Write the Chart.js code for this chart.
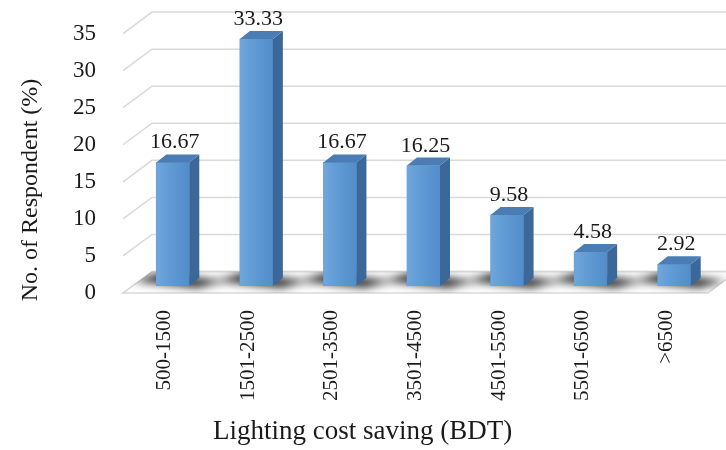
<!DOCTYPE html>
<html>
<head>
<meta charset="utf-8">
<script src="https://cdn.jsdelivr.net/npm/chart.js@4"></script>
<style>
  html, body { margin: 0; padding: 0; background: #ffffff; }
  #wrap { width: 726px; height: 450px; }
</style>
</head>
<body>
<div id="wrap"><canvas id="c" width="726" height="450"></canvas></div>
<script>
// Share of respondents by lighting cost saving band
const categories = ['500-1500', '1501-2500', '2501-3500', '3501-4500', '4501-5500', '5501-6500', '>6500'];
const respondentShare = [16.67, 33.33, 16.67, 16.25, 9.58, 4.58, 2.92];
const yTicks = [0, 5, 10, 15, 20, 25, 30, 35];
const yTitle = 'No. of Respondent (%)';
const xTitle = 'Lighting cost saving (BDT)';

const FONT = "'Liberation Serif', 'Times New Roman', serif";

// perspective offsets for the pseudo-3D look
const WALL = { dx: 29, dy: -21.5 };   // front plane -> back wall
const BAR = { dx: 8, dy: -7 };        // front plane -> bar front face
const DEPTH = { dx: 10, dy: -8 };     // bar front face -> bar back face
const GRID_COLOR = '#d9d9d9';

function floorPath(ctx, left, right, y) {
  ctx.beginPath();
  ctx.moveTo(left, y);
  ctx.lineTo(right, y);
  ctx.lineTo(right + WALL.dx, y + WALL.dy);
  ctx.lineTo(left + WALL.dx, y + WALL.dy);
  ctx.closePath();
}

const faux3d = {
  id: 'faux3d',
  beforeDatasetsDraw(chart) {
    const { ctx, chartArea, scales } = chart;
    const ys = scales.y;
    const left = chartArea.left, right = chartArea.right;
    const y0 = ys.getPixelForValue(0);

    ctx.save();
    // floor
    floorPath(ctx, left, right, y0);
    ctx.fillStyle = '#ffffff';
    ctx.fill();
    ctx.strokeStyle = GRID_COLOR;
    ctx.lineWidth = 1.5;
    ctx.stroke();

    // back wall gridlines with their side-wall diagonals
    yTicks.forEach(v => {
      const yf = ys.getPixelForValue(v);
      const yb = yf + WALL.dy;
      ctx.beginPath();
      ctx.moveTo(left, yf);
      ctx.lineTo(left + WALL.dx, yb);
      ctx.lineTo(chart.width, yb);
      ctx.stroke();
    });

    // soft shadows on the floor around each bar base
    const meta = chart.getDatasetMeta(0);
    ctx.save();
    floorPath(ctx, left, right, y0);
    ctx.clip();
    ctx.filter = 'blur(4px)';
    ctx.fillStyle = 'rgba(10,10,10,0.85)';
    meta.data.forEach(bar => {
      const p = bar.getProps(['x', 'width', 'base'], true);
      const x0 = p.x - p.width / 2 + BAR.dx;
      const x1 = p.x + p.width / 2 + BAR.dx;
      const yb = p.base + BAR.dy;
      ctx.beginPath();
      ctx.moveTo(x0 - 24, yb - 5);
      ctx.lineTo(x1 + 8, yb + 2);
      ctx.lineTo(x1 + DEPTH.dx + 26, yb + DEPTH.dy + 3);
      ctx.lineTo(x0 + DEPTH.dx - 8, yb + DEPTH.dy - 5);
      ctx.closePath();
      ctx.fill();
    });
    ctx.restore();
    ctx.restore();

    // shift the bars onto their plane inside the box
    ctx.save();
    ctx.translate(BAR.dx, BAR.dy);
  },
  afterDatasetsDraw(chart) {
    const { ctx } = chart;
    const meta = chart.getDatasetMeta(0);
    meta.data.forEach((bar, i) => {
      const p = bar.getProps(['x', 'y', 'width', 'base'], true);
      const x0 = p.x - p.width / 2;
      const x1 = p.x + p.width / 2;
      const top = p.y, base = p.base;

      // front face shading
      const g = ctx.createLinearGradient(x0, 0, x1, 0);
      g.addColorStop(0, 'rgba(255,255,255,0.12)');
      g.addColorStop(1, 'rgba(0,30,80,0.10)');
      ctx.fillStyle = g;
      ctx.fillRect(x0, top, x1 - x0, base - top);

      // right side face
      ctx.beginPath();
      ctx.moveTo(x1, top);
      ctx.lineTo(x1 + DEPTH.dx, top + DEPTH.dy);
      ctx.lineTo(x1 + DEPTH.dx, base + DEPTH.dy);
      ctx.lineTo(x1, base);
      ctx.closePath();
      ctx.fillStyle = '#3b6799';
      ctx.fill();

      // top face
      ctx.beginPath();
      ctx.moveTo(x0, top);
      ctx.lineTo(x1, top);
      ctx.lineTo(x1 + DEPTH.dx, top + DEPTH.dy);
      ctx.lineTo(x0 + DEPTH.dx, top + DEPTH.dy);
      ctx.closePath();
      ctx.fillStyle = '#4b7cb3';
      ctx.fill();

      // value label
      ctx.fillStyle = '#1a1a1a';
      ctx.font = '22px ' + FONT;
      ctx.textAlign = 'center';
      ctx.textBaseline = 'alphabetic';
      ctx.fillText(respondentShare[i].toFixed(2), p.x + 2, top + DEPTH.dy - 6);
    });
    ctx.restore();
  },
  afterDraw(chart) {
    const { ctx } = chart;
    ctx.save();
    ctx.fillStyle = '#1a1a1a';
    ctx.textBaseline = 'alphabetic';
    ctx.font = '27px ' + FONT;
    ctx.textAlign = 'left';
    ctx.fillText(xTitle, 213, 439);
    ctx.font = '24px ' + FONT;
    ctx.textAlign = 'center';
    ctx.translate(37, 190);
    ctx.rotate(-Math.PI / 2);
    ctx.fillText(yTitle, 0, 0);
    ctx.restore();
  }
};

new Chart(document.getElementById('c'), {
  type: 'bar',
  data: {
    labels: categories,
    datasets: [{
      data: respondentShare,
      backgroundColor: '#5b9ad8',
      borderWidth: 0,
      barThickness: 33
    }]
  },
  options: {
    responsive: false,
    animation: false,
    devicePixelRatio: 1,
    layout: { padding: { top: 33.6, right: 18, left: 0, bottom: 0 } },
    plugins: { legend: { display: false }, tooltip: { enabled: false } },
    scales: {
      x: {
        grid: { display: false },
        border: { display: false },
        ticks: {
          autoSkip: false,
          minRotation: 90,
          maxRotation: 90,
          padding: 9,
          color: '#1a1a1a',
          font: { family: FONT, size: 21 }
        },
        afterFit(scale) { scale.height = 157; }
      },
      y: {
        min: 0,
        max: 35,
        grid: { display: false },
        border: { display: false },
        ticks: {
          stepSize: 5,
          padding: 19,
          color: '#1a1a1a',
          font: { family: FONT, size: 23 }
        },
        afterFit(scale) { scale.width = 123; }
      }
    }
  },
  plugins: [faux3d]
});
</script>
</body>
</html>
